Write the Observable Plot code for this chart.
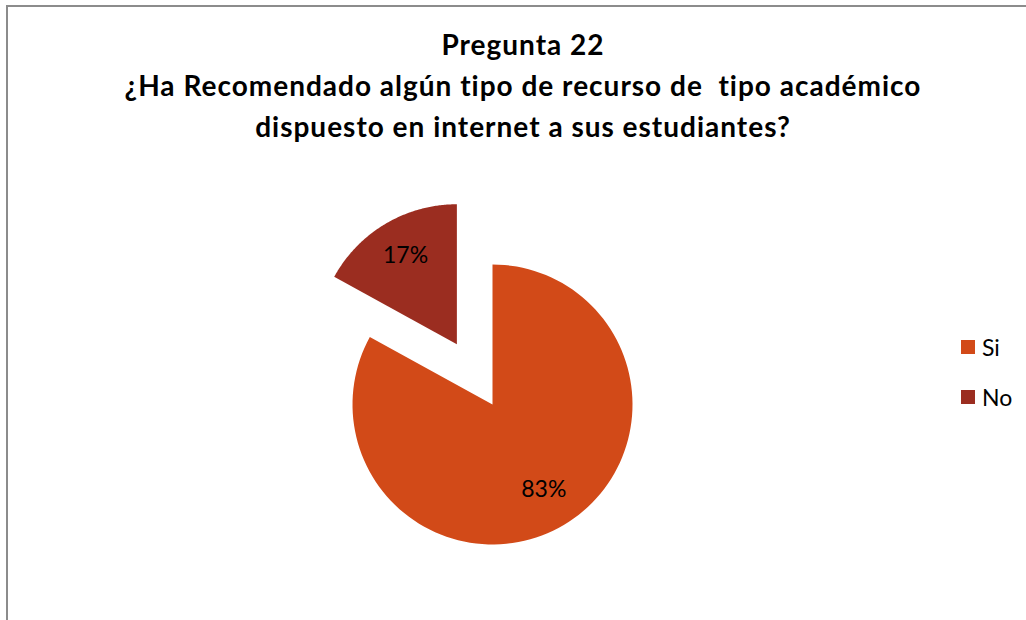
<!DOCTYPE html>
<html>
<head>
<meta charset="utf-8">
<script src="https://cdn.jsdelivr.net/npm/d3@7"></script>
<script src="https://cdn.jsdelivr.net/npm/@observablehq/plot@0.6"></script>
<style>
  html, body { margin: 0; padding: 0; background: #fff; }
  #wrap { position: relative; width: 1026px; height: 620px; overflow: hidden; font-family: Lato, "Open Sans", sans-serif; }
  #frame { position: absolute; left: 6px; top: 5px; width: 1100px; height: 700px; border-top: 2px solid #8c8c8c; border-left: 2px solid #8c8c8c; }
  #title { position: absolute; left: 0; top: 24px; width: 1046px; text-align: center; font-weight: bold; font-size: 28px; letter-spacing: 1px; line-height: 41px; color: #000; }
  #chart { position: absolute; left: 0; top: 0; }
  #legend { position: absolute; left: 961px; top: 333px; font-size: 23px; color: #000; }
  .item { display: flex; align-items: center; height: 28px; margin-bottom: 22px; }
  .sw { width: 14px; height: 14px; margin-right: 7px; }
</style>
</head>
<body>
<div id="wrap">
  <div id="frame"></div>
  <div id="chart"></div>
  <div id="title">Pregunta 22<br>¿Ha Recomendado algún tipo de recurso de&nbsp; tipo académico<br>dispuesto en internet a sus estudiantes?</div>
  <div id="legend"></div>
</div>
<script>
const categories = ["Si", "No"];
const values = [83, 17];
const labels = ["83%", "17%"];
const colors = ["#d24a18", "#9b2d20"];
const exploded = [0, 1];

// layout
const cx = 492, cy = 404, r = 140, explodeDist = 70;

const total = d3.sum(values);
const pts = [];
const labelRows = [];
let start = 0;
categories.forEach((c, i) => {
  const a0 = start / total * 2 * Math.PI;
  const a1 = (start + values[i]) / total * 2 * Math.PI;
  start += values[i];
  const mid = (a0 + a1) / 2;
  const ox = cx + exploded[i] * explodeDist * Math.sin(mid);
  const oy = cy - exploded[i] * explodeDist * Math.cos(mid);
  pts.push({slice: c, x: ox, y: oy});
  const n = 120;
  for (let k = 0; k <= n; k++) {
    const a = a0 + (a1 - a0) * k / n;
    pts.push({slice: c, x: ox + r * Math.sin(a), y: oy - r * Math.cos(a)});
  }
  pts.push({slice: c, x: ox, y: oy});
  labelRows.push({slice: c, label: labels[i], x: ox + 0.72 * r * Math.sin(mid), y: oy - 0.72 * r * Math.cos(mid) - 2});
});

const plot = Plot.plot({
  width: 1026,
  height: 620,
  margin: 0,
  x: {domain: [0, 1026], range: [0, 1026], axis: null},
  y: {domain: [0, 620], range: [0, 620], axis: null},
  color: {domain: categories, range: colors},
  style: {background: "transparent"},
  marks: [
    Plot.line(pts, {x: "x", y: "y", z: "slice", fill: "slice", stroke: null, curve: "linear"}),
    Plot.text(labelRows, {x: "x", y: "y", text: "label", fill: "#000", fontSize: 23, fontFamily: "Lato, 'Open Sans', sans-serif"})
  ]
});
document.getElementById("chart").appendChild(plot);

const leg = document.getElementById("legend");
categories.forEach((c, i) => {
  const it = document.createElement("div");
  it.className = "item";
  it.innerHTML = `<div class="sw" style="background:${colors[i]}"></div><span>${c}</span>`;
  leg.appendChild(it);
});
</script>
</body>
</html>
